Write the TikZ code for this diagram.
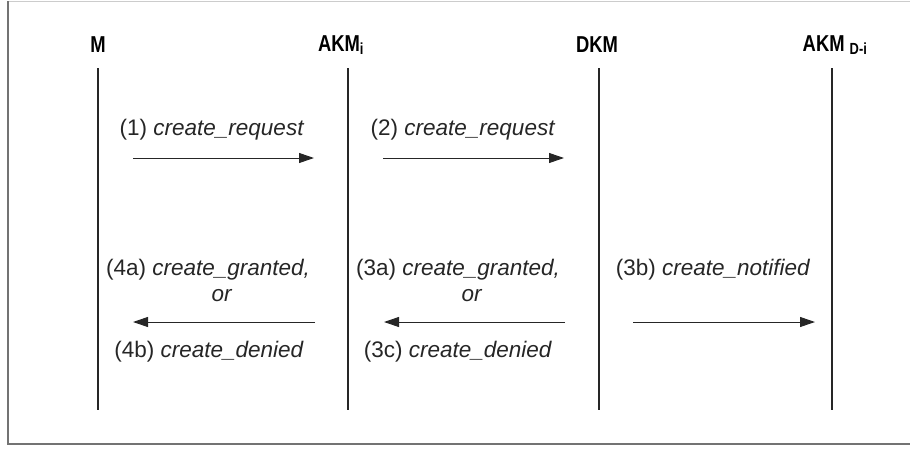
\documentclass[tikz,border=0pt]{standalone}
\usepackage{fontspec}
\setmainfont{Liberation Sans}
\usetikzlibrary{arrows.meta}
\newcommand{\narrow}[1]{\scalebox{0.8}[1]{#1}}
\begin{document}
\begin{tikzpicture}[x=1pt,y=-1pt,
  actor/.style={font=\bfseries\fontsize{23}{27}\selectfont, inner sep=0pt},
  lifeline/.style={line width=1.6pt, black!85},
  msg/.style={line width=1pt, black!85, -{Triangle[length=15pt,width=10pt]}},
  lbl/.style={font=\fontsize{22.5}{27}\selectfont, inner sep=0pt, text=black!85}]
  \useasboundingbox (0,0) rectangle (910,450);
  % outer frame (open to the right)
  \draw[black!20, line width=1pt] (915,1) -- (8,1);
  \draw[black!55, line width=2pt] (8,1) -- (8,444) -- (915,444);

  % actors
  \node[actor] (m)    at (98,45)  {\narrow{M}};
  \node[actor] (akmi) at (341,45) {\narrow{AKM\textsubscript{i}}};
  \node[actor] (dkm)  at (597,45) {\narrow{DKM}};
  \node[actor] (akmd) at (835,45) {\narrow{AKM \textsubscript{D-i}}};

  % lifelines
  \foreach \n/\x in {m/98, akmi/348, dkm/599, akmd/832} {
    \coordinate (\n top) at (\x,68);
    \coordinate (\n bot) at (\x,410);
    \draw[lifeline] (\n top) -- (\n bot);
  }

  % messages
  \coordinate (r1s) at (133,158); \coordinate (r1e) at (314,158);
  \coordinate (r2s) at (383,158); \coordinate (r2e) at (564,158);
  \coordinate (g4s) at (315,322); \coordinate (g4e) at (133,322);
  \coordinate (g3s) at (565,322); \coordinate (g3e) at (384,322);
  \coordinate (n3s) at (633,322); \coordinate (n3e) at (815,322);
  \draw[msg] (r1s) -- (r1e);
  \draw[msg] (r2s) -- (r2e);
  \draw[msg] (g4s) -- (g4e);
  \draw[msg] (g3s) -- (g3e);
  \draw[msg] (n3s) -- (n3e);

  % message labels
  \node[lbl] (t1)  at (212,130) {(1) \textit{create\_request}};
  \node[lbl] (t2)  at (463,130) {(2) \textit{create\_request}};
  \node[lbl] (t4a) at (208,270) {(4a) \textit{create\_granted,}};
  \node[lbl] (o4)  at (222,296) {\textit{or}};
  \node[lbl] (t4b) at (209,352) {(4b) \textit{create\_denied}};
  \node[lbl] (t3a) at (458,270) {(3a) \textit{create\_granted,}};
  \node[lbl] (o3)  at (472,296) {\textit{or}};
  \node[lbl] (t3c) at (458,352) {(3c) \textit{create\_denied}};
  \node[lbl] (t3b) at (713,270) {(3b) \textit{create\_notified}};
\end{tikzpicture}
\end{document}
